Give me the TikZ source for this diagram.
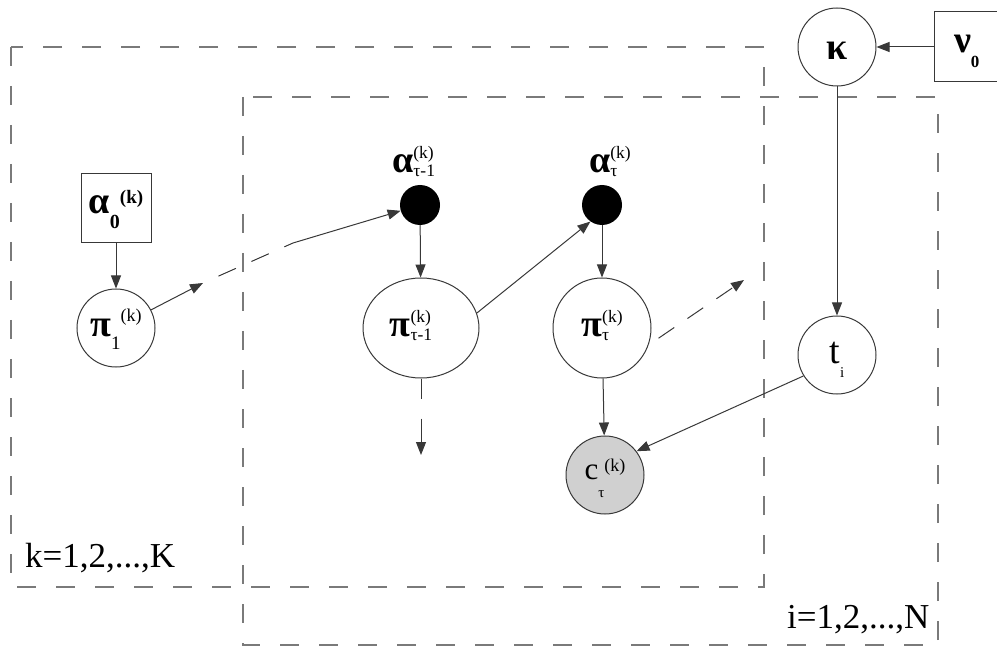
\documentclass[tikz,border=0pt]{standalone}
\usepackage{fontspec}
\setmainfont{Liberation Serif}
\usetikzlibrary{arrows.meta,shapes.geometric}
\definecolor{edgec}{HTML}{383838}
\definecolor{boxc}{HTML}{7A7A7A}
\definecolor{obsfill}{HTML}{D0D0D0}
\newcommand{\gbig}{\fontsize{38}{40}\selectfont\bfseries}
\newcommand{\fs}[1]{\fontsize{#1}{#1}\selectfont}
% strut: baseline lies #1 pt below the node centre
\newcommand{\nstrut}[1]{\rule[\dimexpr#1pt-25pt\relax]{0pt}{50pt}}
% sequential sub/sup
\newcommand{\sq}[5]{{#1}\raisebox{#2}{#3}\raisebox{#4}{#5}}
% stacked sub/sup
\newsavebox\subbx
\newsavebox\supbx
\newlength\stkw
\newcommand{\stk}[3]{{#1}{\fs{17.5}\sbox\subbx{#2}\sbox\supbx{#3}%
  \ifdim\wd\subbx>\wd\supbx \stkw=\wd\subbx \else \stkw=\wd\supbx \fi
  \rlap{\raisebox{-4pt}{\usebox\subbx}}\rlap{\raisebox{14pt}{\usebox\supbx}}\hspace*{\stkw}}}
\tikzset{
  edge/.style={draw=edgec, line width=1pt, -{Triangle[length=13pt,width=10pt]}},
  plain/.style={draw=edgec, line width=1pt},
  plate/.style={draw=boxc, line width=1.2pt, dash pattern=on 19pt off 20pt},
  rv/.style={circle, draw=edgec, line width=1pt, minimum size=78pt, inner sep=0pt},
  ell/.style={ellipse, draw=edgec, line width=1pt, inner sep=0pt},
  hyper/.style={rectangle, draw=edgec, line width=1pt, minimum width=70pt, minimum height=69pt, inner sep=0pt},
  dot/.style={circle, fill=black, minimum size=40pt, inner sep=0pt},
  txt/.style={inner sep=0pt},
  platelab/.style={font=\fontsize{35}{40}\selectfont, inner sep=0pt}
}
\begin{document}
\begin{tikzpicture}[x=1pt,y=-1pt]
\useasboundingbox (0,0) rectangle (997,647);
% plates
\draw[plate] (11,47) rectangle (764,587);
\draw[plate] (243,97) rectangle (938,645);
\node[platelab, anchor=base west] (klab) at (25,567) {k=1,2,...,K};
\node[platelab, anchor=base west] (ilab) at (787,628) {i=1,2,...,N};
% nodes
\node[hyper] (a0) at (116,208) {\nstrut{6}\sq{\gbig α}{-15pt}{\fs{20}\bfseries 0}{10pt}{\fs{19}\bfseries (k)}};
\node[rv] (p1) at (116,328) {\nstrut{9}\sq{\gbig π}{-13pt}{\fs{19}1}{15pt}{\fs{18}(k)}};
\node[dot] (at1) at (420,205) {};
\node[txt, anchor=base west] (lat1) at (392,173) {\stk{\gbig α}{τ-1}{(k)}};
\node[ell, minimum width=116pt, minimum height=100pt] (pt1) at (421,328) {\nstrut{9}\stk{\gbig π}{τ-1}{(k)}\hspace*{20pt}};
\node[dot] (at) at (602,205) {};
\node[txt, anchor=base west] (lat) at (589,173) {\stk{\gbig α}{τ}{(k)}};
\node[ell, minimum width=98pt, minimum height=100pt] (pt) at (602,328) {\nstrut{9}\stk{\gbig π}{τ}{(k)}};
\node[rv, fill=obsfill] (ct) at (605,475) {\nstrut{4}\sq{\fs{31}c}{-18pt}{\fs{15}τ}{8pt}{\fs{18}(k)}};
\node[rv] (ti) at (837,355) {\nstrut{8}\sq{\fs{38}t}{-14pt}{\fs{15}i}{0pt}{}};
\node[rv] (ka) at (837,47) {\nstrut{13}{\gbig κ}};
\node[hyper, minimum width=100pt, minimum height=70pt] (nu) at (984,47) {\nstrut{6}\makebox[60pt][l]{\sq{\gbig ν}{-15pt}{\fs{17}\bfseries 0}{0pt}{}}};
% free ends
\coordinate (c1) at (203,283);
\coordinate (c2) at (293,243);
\coordinate (d1) at (421,455);
\coordinate (e1) at (744,280);
% edges
\draw[edge] (a0) -- (p1);
\draw[edge] (p1) -- (c1);
\draw[plain, dash pattern=on 19pt off 17pt, dash phase=19pt] (c1) -- (c2);
\draw[edge] (c2) -- (at1);
\draw[edge] (at1) -- (pt1);
\draw[edge] (pt1.15) -- (at.235);
\draw[edge] (at) -- (pt);
\draw[edge, dash pattern=on 20pt off 20pt on 60pt] (pt1) -- (d1);
\draw[edge, dash pattern=on 19pt off 16pt, dash phase=23pt] (pt.-20) -- (e1);
\draw[edge] (pt) -- (ct);
\draw[edge] (ti.212) -- (ct.37);
\draw[edge] (nu.west |- ka) -- (ka);
\draw[edge] (ka) -- (ti);
\end{tikzpicture}
\end{document}
